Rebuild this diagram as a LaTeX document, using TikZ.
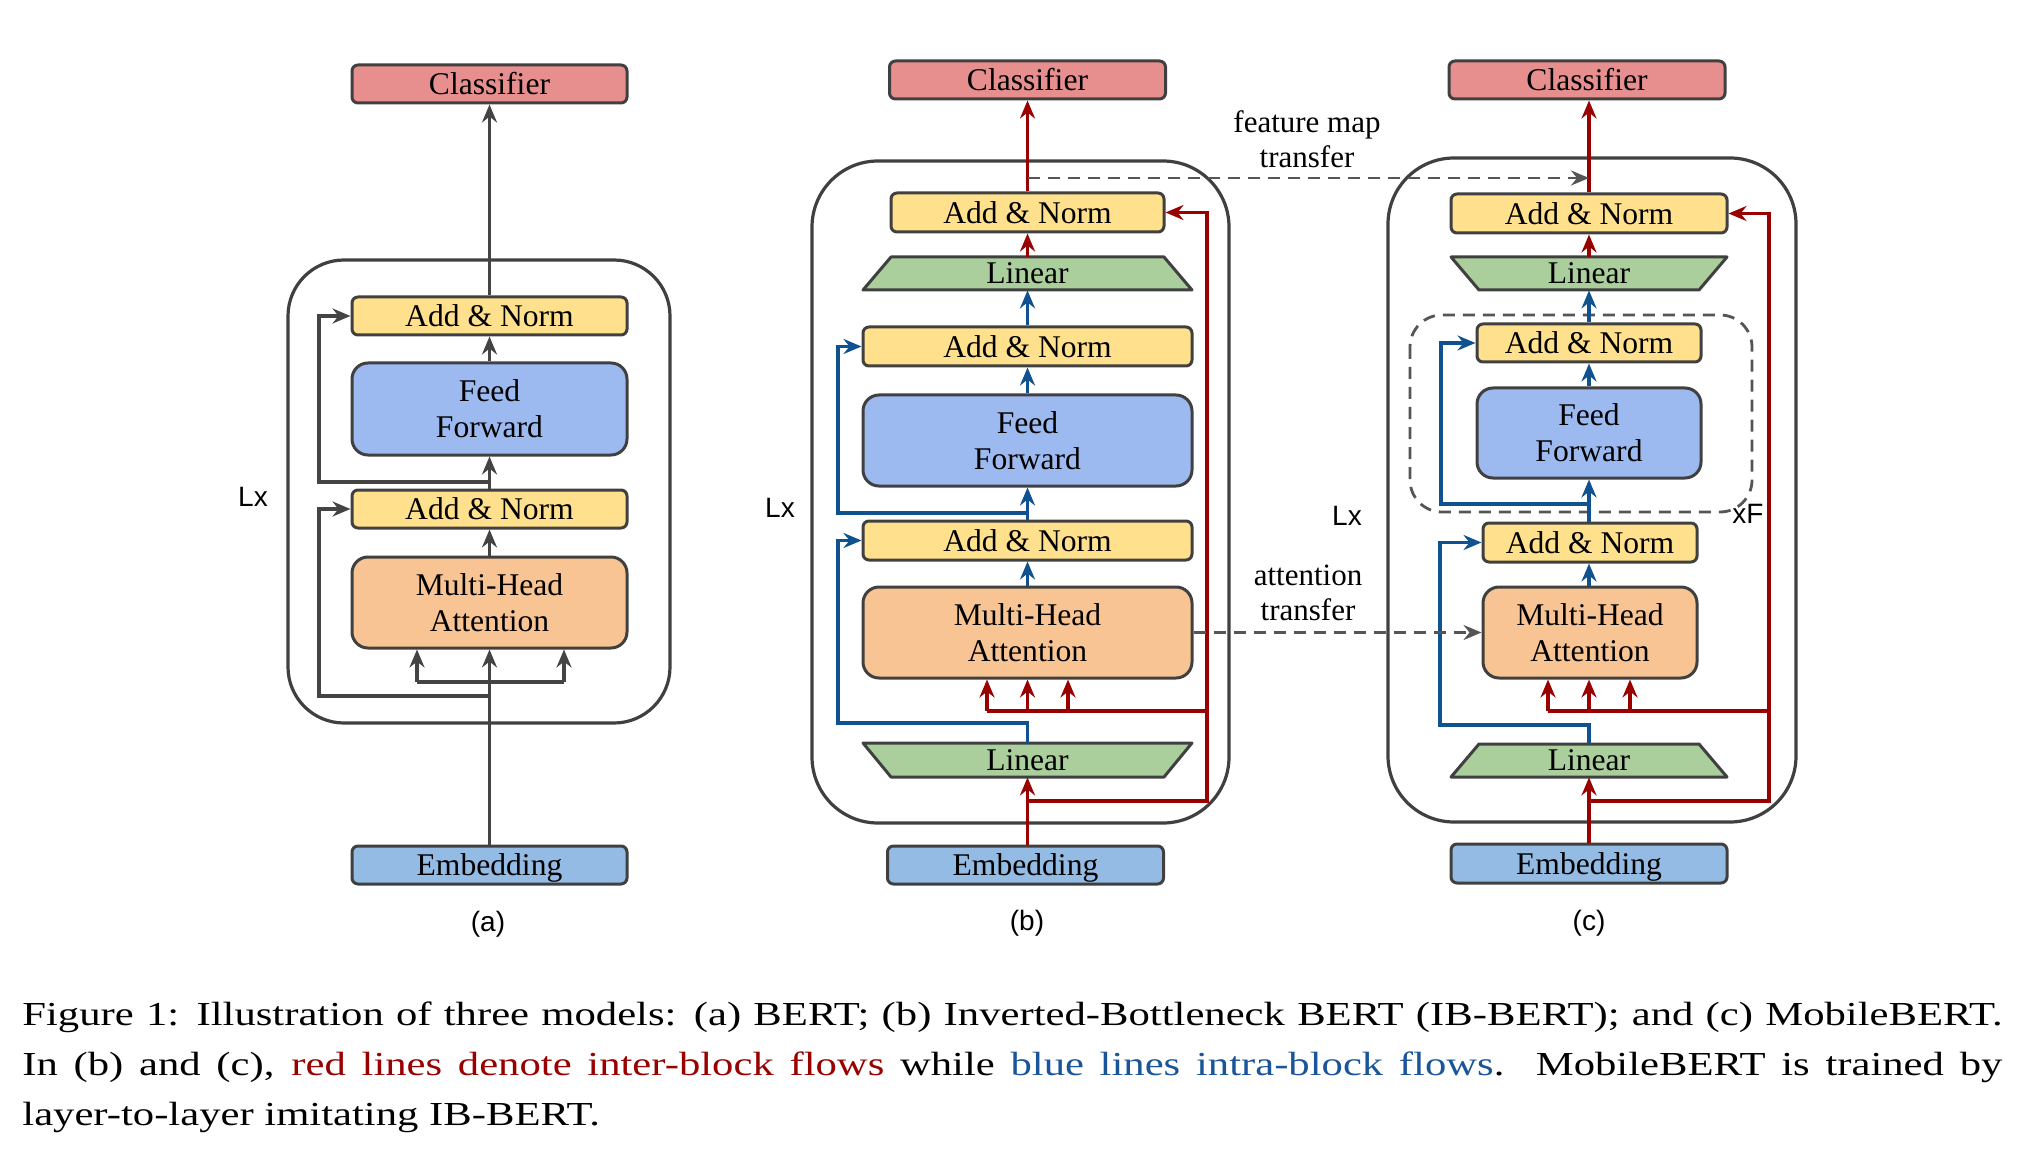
\documentclass[tikz,border=0pt]{standalone}
\usepackage{fontspec}
\setmainfont{Liberation Serif}
\newfontfamily\sansf{Liberation Sans}
\newfontfamily\capfont[FakeStretch=1.27]{Liberation Serif}
\usetikzlibrary{arrows.meta}
\definecolor{bord}{HTML}{404040}
\definecolor{clsfill}{HTML}{E78F8E}
\definecolor{anfill}{HTML}{FFE08C}
\definecolor{fffill}{HTML}{9DBAF0}
\definecolor{mhfill}{HTML}{F8C493}
\definecolor{linfill}{HTML}{ABCF9C}
\definecolor{embfill}{HTML}{94BBE3}
\definecolor{redl}{HTML}{990000}
\definecolor{bluel}{HTML}{10528F}
\definecolor{grayl}{HTML}{444444}
\definecolor{dashl}{HTML}{555555}
\definecolor{capblue}{HTML}{1A5599}
\begin{document}
\begin{tikzpicture}[x=0.5pt,y=-0.5pt,
  blk/.style={draw=bord,line width=1.5pt,inner sep=0pt,align=center,
    font=\fontsize{15.8}{18}\selectfont,rounded corners=3pt},
  thinbox/.style={blk,minimum height=19.5pt},
  bigbox/.style={blk,rounded corners=8pt,minimum height=45.5pt},
  tip/.style={-{Stealth[length=9pt,width=7.5pt,inset=3pt]}},
  lnA/.style={draw=grayl,line width=1.6pt},
  lnR/.style={draw=redl,line width=1.6pt},
  lnB/.style={draw=bluel,line width=1.6pt},
  outer/.style={draw=bord,line width=1.6pt},
  dsh/.style={draw=dashl,line width=1.4pt,dash pattern=on 6pt off 4pt},
  lab/.style={font=\sansf\fontsize{14}{16}\selectfont,inner sep=0pt},
  txt/.style={font=\fontsize{15.5}{17.5}\selectfont,align=center,inner sep=0pt},
  linbox/.style={inner sep=0pt,font=\fontsize{15.8}{18}\selectfont},
  trap/.style={draw=bord,line width=1.5pt,fill=linfill,line join=round}
]
\useasboundingbox (0,0) rectangle (2028,1160);

% ---------- outer boxes ----------
\draw[outer,rounded corners=28pt] (288,260) rectangle (670,723);
\draw[outer,rounded corners=33pt] (812,161) rectangle (1229,823);
\draw[outer,rounded corners=33pt] (1388,158) rectangle (1796,822);
\draw[dsh,rounded corners=16pt] (1410,315) rectangle (1752,512);

% ---------- trapezoids (Linear) ----------
\draw[trap] (891,257)--(1164,257)--(1192,290)--(863,290)--cycle;
\draw[trap] (863,743)--(1192,743)--(1164,777)--(891,777)--cycle;
\draw[trap] (1451,257)--(1727,257)--(1699,290)--(1479,290)--cycle;
\draw[trap] (1479,744)--(1699,744)--(1727,777)--(1451,777)--cycle;

% ---------- panel (a) nodes ----------
\node[thinbox,fill=clsfill,minimum width=137.5pt,minimum height=19pt] (clsA) at (489.5,84) {Classifier};
\node[thinbox,fill=anfill,minimum width=137.5pt,minimum height=19pt] (anA2) at (489.5,316) {Add \& Norm};
\node[bigbox,fill=fffill,minimum width=137.5pt,minimum height=46pt] (ffA) at (489.5,409) {Feed\\Forward};
\node[thinbox,fill=anfill,minimum width=137.5pt,minimum height=19pt] (anA1) at (489.5,509) {Add \& Norm};
\node[bigbox,fill=mhfill,minimum width=137.5pt] (mhA) at (489.5,602.5) {Multi-Head\\Attention};
\node[thinbox,fill=embfill,minimum width=137.5pt,minimum height=19pt,text depth=0pt] (embA) at (489.5,865) {Embedding};

% ---------- panel (b) nodes ----------
\node[thinbox,fill=clsfill,minimum width=138pt,minimum height=19pt] (clsB) at (1027.5,80) {Classifier};
\node[thinbox,fill=anfill,minimum width=136.5pt] (anB3) at (1027.5,212.5) {Add \& Norm};
\node[linbox,minimum width=164.5pt,minimum height=16.5pt] (linB2) at (1027.5,273.5) {\raisebox{-1.5pt}{Linear}};
\node[thinbox,fill=anfill,minimum width=164.5pt] (anB2) at (1027.5,346.5) {Add \& Norm};
\node[bigbox,fill=fffill,minimum width=164.5pt] (ffB) at (1027.5,440.5) {Feed\\Forward};
\node[thinbox,fill=anfill,minimum width=164.5pt] (anB1) at (1027.5,540.5) {Add \& Norm};
\node[bigbox,fill=mhfill,minimum width=164.5pt] (mhB) at (1027.5,632.5) {Multi-Head\\Attention};
\node[linbox,minimum width=164.5pt,minimum height=17pt] (linB1) at (1027.5,760) {\raisebox{-1.5pt}{Linear}};
\node[thinbox,fill=embfill,minimum width=138pt,minimum height=19pt,text depth=0pt] (embB) at (1025.5,865) {Embedding};

% ---------- panel (c) nodes ----------
\node[thinbox,fill=clsfill,minimum width=138pt,minimum height=19pt] (clsC) at (1587,80) {Classifier};
\node[thinbox,fill=anfill,minimum width=138pt] (anC3) at (1589,213.5) {Add \& Norm};
\node[linbox,minimum width=138pt,minimum height=16.5pt] (linC2) at (1589,273.5) {\raisebox{-1.5pt}{Linear}};
\node[thinbox,fill=anfill,minimum width=112pt,minimum height=19pt] (anC2) at (1589,343) {Add \& Norm};
\node[bigbox,fill=fffill,minimum width=112pt,minimum height=45pt] (ffC) at (1589,433) {Feed\\Forward};
\node[thinbox,fill=anfill,minimum width=107pt] (anC1) at (1590,542.5) {Add \& Norm};
\node[bigbox,fill=mhfill,minimum width=107pt] (mhC) at (1590,632.5) {Multi-Head\\Attention};
\node[linbox,minimum width=138pt,minimum height=16.5pt] (linC1) at (1589,760.5) {\raisebox{-1.5pt}{Linear}};
\node[thinbox,fill=embfill,minimum width=138pt,text depth=0pt] (embC) at (1589,863.5) {Embedding};

% ---------- panel (a) connectors ----------
\coordinate (qA1) at (417,682);
\coordinate (qA3) at (564,682);
\coordinate (sA1) at (319,696);
\coordinate (sA2) at (319,482);
\draw[lnA,tip] (embA) -- (mhA);
\draw[lnA] (qA1) -- (qA3);
\draw[lnA,tip] (qA1) -- (qA1 |- mhA.south);
\draw[lnA,tip] (qA3) -- (qA3 |- mhA.south);
\draw[lnA,tip] (embA.north |- sA1) -- (sA1) |- (anA1.west);
\draw[lnA,tip] (mhA) -- (anA1);
\draw[lnA,tip] (anA1) -- (ffA);
\draw[lnA,tip] (anA1.north |- sA2) -- (sA2) |- (anA2.west);
\draw[lnA,tip] (ffA) -- (anA2);
\draw[lnA,tip] (anA2) -- (clsA);

% ---------- panel (b) connectors ----------
\coordinate (jB) at (1027.5,801);
\coordinate (rB) at (1207,801);
\coordinate (rB1) at (987,711);
\coordinate (rB3) at (1068,711);
\coordinate (rBm) at (1207,711);
\coordinate (sB1) at (838,723);
\coordinate (sB2) at (838,513);
\draw[lnR,tip] (embB.north -| linB1.south) -- (linB1.south);
\draw[lnR,tip] (jB) -- (rB) |- (anB3.east);
\draw[lnR] (rB1) -- (rBm);
\draw[lnR,tip] (rB1) -- (rB1 |- mhB.south);
\draw[lnR,tip] (mhB.south |- rB1) -- (mhB.south);
\draw[lnR,tip] (rB3) -- (rB3 |- mhB.south);
\draw[lnB,tip] (linB1.north) |- (sB1) |- (anB1.west);
\draw[lnB,tip] (mhB) -- (anB1);
\draw[lnB,tip] (anB1) -- (ffB);
\draw[lnB,tip] (anB1.north |- sB2) -- (sB2) |- (anB2.west);
\draw[lnB,tip] (ffB) -- (anB2);
\draw[lnB,tip] (anB2.north) -- (linB2.south);
\draw[lnR,tip] (linB2.north) -- (anB3.south);
\draw[lnR,tip] (anB3.north) -- (anB3.north |- clsB.south);

% ---------- panel (c) connectors ----------
\coordinate (jC) at (1589,801);
\coordinate (rC) at (1769,801);
\coordinate (rC1) at (1548,711);
\coordinate (rC3) at (1630,711);
\coordinate (rCm) at (1769,711);
\coordinate (sC1) at (1440,725);
\coordinate (sC2) at (1441,504);
\draw[lnR,tip] (embC.north) -- (linC1.south);
\draw[lnR,tip] (jC) -- (rC) |- (anC3.east);
\draw[lnR] (rC1) -- (rCm);
\draw[lnR,tip] (rC1) -- (rC1 |- mhC.south);
\draw[lnR,tip] (jC |- rC1) -- (jC |- mhC.south);
\draw[lnR,tip] (rC3) -- (rC3 |- mhC.south);
\draw[lnB,tip] (linC1.north) |- (sC1) |- (anC1.west);
\draw[lnB,tip] (jC |- mhC.north) -- (jC |- anC1.south);
\draw[lnB,tip] (jC |- anC1.north) -- (ffC.south);
\draw[lnB,tip] (jC |- sC2) -- (sC2) |- (anC2.west);
\draw[lnB,tip] (ffC) -- (anC2);
\draw[lnB,tip] (anC2.north) -- (linC2.south);
\draw[lnR,tip] (linC2.north) -- (anC3.south);
\draw[lnR,tip] (anC3.north) -- (anC3.north |- clsC.south);

% ---------- transfers ----------
\coordinate (fmS) at (1027.5,178);
\coordinate (fmE) at (1589,178);
\draw[dsh,tip] (fmS) -- (fmE);
\draw[dsh,tip] (mhB.east) -- (mhC.west);
\node[txt] (fmt) at (1307,139) {feature map\\transfer};
\node[txt] (att) at (1308,593) {attention\\transfer};

% ---------- labels ----------
\node[lab] (lxA) at (253,497) {Lx};
\node[lab] (lxB) at (780,508) {Lx};
\node[lab] (lxC) at (1347,516) {Lx};
\node[lab] (xf) at (1748,514) {xF};
\node[lab] (pa) at (488,924) {(a)};
\node[lab] (pb) at (1027,923) {(b)};
\node[lab] (pc) at (1589,923) {(c)};

% ---------- caption ----------
\node[anchor=base west,inner sep=0pt] (cap) at (22,1025) {\parbox[t]{990pt}{\capfont\fontsize{16.8}{25.2}\selectfont
Figure 1: Illustration of three models: (a) BERT; (b) Inverted-Bottleneck BERT (IB-BERT); and (c) MobileBERT.\linebreak
In (b) and (c), {\color{redl}red lines denote inter-block flows} while {\color{capblue}blue lines intra-block flows}.\ \ MobileBERT is trained by\linebreak
layer-to-layer imitating IB-BERT.}};
\end{tikzpicture}
\end{document}
